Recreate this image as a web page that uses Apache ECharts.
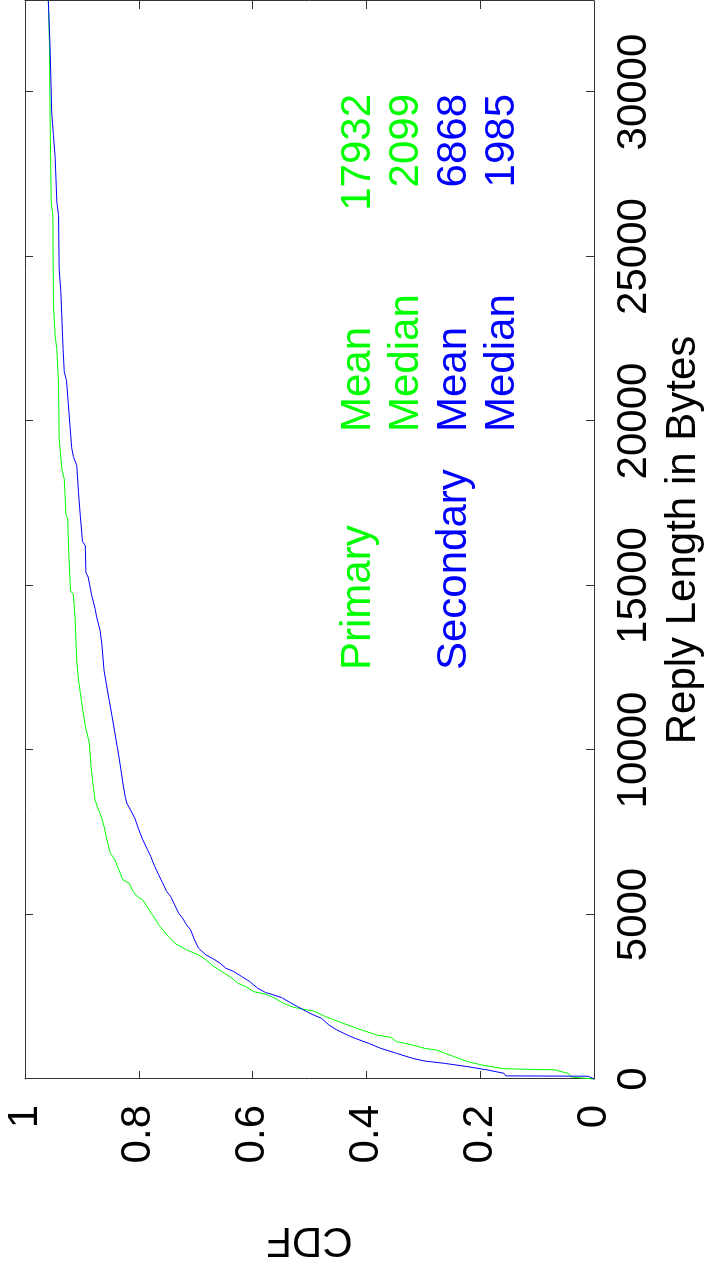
<!DOCTYPE html>
<html>
<head>
<meta charset="utf-8">
<title>Reply Length CDF</title>
<script src="https://cdn.jsdelivr.net/npm/echarts@6/dist/echarts.min.js"></script>
<style>
  html, body { margin: 0; padding: 0; background: #fff; overflow: hidden; }
  /* the figure is drawn landscape and turned a quarter turn counter-clockwise */
  #chart {
    position: absolute; left: 0; top: 0;
    width: 1274px; height: 704px;
    transform-origin: 0 0;
    transform: translate(0, 1274px) rotate(-90deg);
  }
</style>
</head>
<body>
<div id="chart"></div>
<script>
// values: reply length (bytes) and CDF
var primaryBytes = [0, 60, 170, 280, 294, 314, 426, 527, 700, 882, 933, 1034, 1136, 1268, 1339, 1542, 1765, 1897, 2069, 2120, 2181, 2302, 2475, 2576, 2657, 2809, 2911, 3063, 3266, 3418, 3621, 3773, 3925, 4128, 4331, 4686, 4990, 5243, 5446, 5548, 5700, 5953, 6055, 6359, 6663, 6866, 7272, 7677, 7982, 8286, 8489, 8895, 9503, 10213, 10720, 11510, 12140, 12682, 14038, 14716, 14852, 15937, 17022, 17157, 18242, 18513, 19463, 21090, 22175, 22582, 23531, 26244, 26650, 29363, 31397, 32768];
var primaryCdf = [0, 0.04, 0.045, 0.07, 0.117, 0.159, 0.197, 0.222, 0.249, 0.277, 0.298, 0.319, 0.347, 0.357, 0.382, 0.417, 0.452, 0.472, 0.493, 0.511, 0.528, 0.546, 0.563, 0.577, 0.598, 0.612, 0.626, 0.636, 0.654, 0.668, 0.682, 0.695, 0.716, 0.737, 0.748, 0.765, 0.776, 0.786, 0.793, 0.803, 0.810, 0.817, 0.828, 0.835, 0.842, 0.850, 0.856, 0.861, 0.866, 0.873, 0.877, 0.880, 0.884, 0.887, 0.894, 0.901, 0.906, 0.909, 0.912, 0.915, 0.920, 0.923, 0.925, 0.928, 0.931, 0.935, 0.940, 0.941, 0.944, 0.947, 0.950, 0.951, 0.954, 0.956, 0.957, 0.959];

var secondaryBytes = [0, 85, 95, 172, 274, 375, 477, 548, 629, 781, 933, 1085, 1217, 1318, 1491, 1643, 1846, 1947, 2069, 2201, 2333, 2475, 2556, 2627, 2759, 2961, 3114, 3266, 3367, 3519, 3641, 3773, 3976, 4229, 4533, 4686, 4888, 5041, 5294, 5548, 5700, 5953, 6207, 6460, 6765, 7018, 7272, 7576, 7931, 8387, 8590, 8996, 9351, 9807, 10111, 10517, 11024, 11510, 12003, 12410, 13224, 13631, 14038, 14309, 14716, 14988, 15259, 15394, 16208, 16344, 17157, 17835, 18649, 18920, 19192, 19870, 20548, 21226, 21497, 22175, 22582, 23938, 24616, 26244, 26650, 28007, 28685, 29363, 31397, 32768];
var secondaryCdf = [0, 0.01, 0.155, 0.158, 0.187, 0.222, 0.263, 0.298, 0.319, 0.347, 0.375, 0.396, 0.417, 0.431, 0.452, 0.466, 0.479, 0.493, 0.507, 0.521, 0.535, 0.549, 0.563, 0.577, 0.591, 0.605, 0.619, 0.633, 0.647, 0.657, 0.668, 0.682, 0.695, 0.702, 0.709, 0.716, 0.723, 0.730, 0.737, 0.744, 0.751, 0.758, 0.765, 0.772, 0.779, 0.786, 0.793, 0.800, 0.807, 0.821, 0.824, 0.828, 0.831, 0.835, 0.838, 0.842, 0.847, 0.852, 0.857, 0.861, 0.865, 0.868, 0.874, 0.877, 0.883, 0.886, 0.889, 0.893, 0.894, 0.899, 0.903, 0.906, 0.909, 0.915, 0.918, 0.921, 0.924, 0.927, 0.931, 0.933, 0.934, 0.937, 0.940, 0.941, 0.944, 0.947, 0.950, 0.953, 0.956, 0.959];

var statNames = ['Mean', 'Median'];
var primaryStats = [17932, 2099];
var secondaryStats = [6868, 1985];

var bytesMax = 32768;
var bytesStep = 5000;
var cdfStep = 0.2;

var GREEN = '#00ff00';
var BLUE = '#0000ff';
var FONT = '"Liberation Sans", Arial, Helvetica, sans-serif';

function zip(xs, ys) {
  return xs.map(function (x, i) { return [x, ys[i]]; });
}

// box on all four sides, ticks pointing in
var axisLine = { show: true, onZero: false, lineStyle: { color: '#333', width: 1 } };
var axisTick = { show: true, inside: true, length: 8, lineStyle: { color: '#333', width: 1 } };

// text block: Primary / Secondary, Mean / Median, numbers
var groups = [
  { name: 'Primary', color: GREEN, stats: primaryStats },
  { name: 'Secondary', color: BLUE, stats: secondaryStats }
];
var graphics = [];
var row = 0;
groups.forEach(function (g) {
  g.stats.forEach(function (v, k) {
    var y = 358 + row * 48;
    if (k === 0) {
      graphics.push({ type: 'text', x: 604, y: y,
        style: { text: g.name, fill: g.color, font: '42px ' + FONT, align: 'left', verticalAlign: 'middle' } });
    }
    graphics.push({ type: 'text', x: 842, y: y,
      style: { text: statNames[k], fill: g.color, font: '42px ' + FONT, align: 'left', verticalAlign: 'middle' } });
    graphics.push({ type: 'text', x: 1180, y: y,
      style: { text: String(v), fill: g.color, font: '42px ' + FONT, align: 'right', verticalAlign: 'middle' } });
    row++;
  });
});

var myChart = echarts.init(document.getElementById('chart'));
myChart.setOption({
  animation: false,
  backgroundColor: '#fff',
  textStyle: { fontFamily: FONT },
  grid: { left: 195, right: 1, top: 25, bottom: 110, outerBoundsMode: 'none', containLabel: false },
  xAxis: [
    {
      type: 'value', position: 'bottom', min: 0, max: bytesMax, interval: bytesStep,
      axisLine: axisLine, axisTick: axisTick, splitLine: { show: false },
      axisLabel: {
        fontSize: 42, color: '#000', margin: 19, fontFamily: FONT,
        formatter: function (v) { return v % bytesStep === 0 ? String(v) : ''; }
      },
      name: 'Reply Length in Bytes', nameLocation: 'middle', nameGap: 68, nameMoveOverlap: false,
      nameTextStyle: { fontSize: 42, color: '#000', fontFamily: FONT }
    },
    {
      type: 'value', position: 'top', min: 0, max: bytesMax, interval: bytesStep,
      axisLine: axisLine, axisTick: axisTick, splitLine: { show: false },
      axisLabel: { show: false }
    }
  ],
  yAxis: [
    {
      type: 'value', position: 'left', min: 0, max: 1, interval: cdfStep,
      axisLine: axisLine, axisTick: axisTick, splitLine: { show: false },
      axisLabel: { fontSize: 42, color: '#000', margin: 26, fontFamily: FONT },
      name: 'CDF', nameLocation: 'middle', nameGap: 140, nameMoveOverlap: false,
      nameTextStyle: { fontSize: 42, color: '#000', fontFamily: FONT }
    },
    {
      type: 'value', position: 'right', min: 0, max: 1, interval: cdfStep,
      axisLine: axisLine, axisTick: axisTick, splitLine: { show: false },
      axisLabel: { show: false }
    }
  ],
  series: [
    {
      name: 'Primary', type: 'line', showSymbol: false, xAxisIndex: 0, yAxisIndex: 0,
      lineStyle: { color: GREEN, width: 1 }, itemStyle: { color: GREEN },
      data: zip(primaryBytes, primaryCdf)
    },
    {
      name: 'Secondary', type: 'line', showSymbol: false, xAxisIndex: 0, yAxisIndex: 0,
      lineStyle: { color: BLUE, width: 1 }, itemStyle: { color: BLUE },
      data: zip(secondaryBytes, secondaryCdf)
    }
  ],
  graphic: graphics
});
</script>
</body>
</html>
